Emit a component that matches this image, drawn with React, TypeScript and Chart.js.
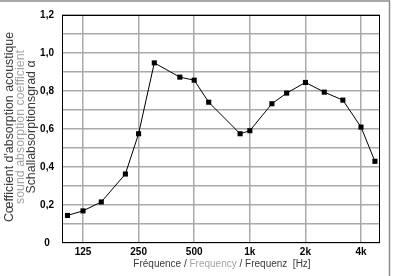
import React, { useEffect, useRef } from 'react';
import { Chart, registerables } from 'chart.js';

Chart.register(...registerables);

const frequencies = [103, 125, 157, 212, 250, 304, 418, 500, 599, 886, 1000, 1317, 1583, 2000, 2530, 3190, 4000, 4757];
const absorption = [0.145, 0.169, 0.216, 0.363, 0.575, 0.948, 0.873, 0.857, 0.741, 0.575, 0.591, 0.733, 0.789, 0.845, 0.794, 0.752, 0.61, 0.43];
const xTickValues = [125, 250, 500, 1000, 2000, 4000];
const xTickLabels = ['125', '250', '500', '1k', '2k', '4k'];
const yTickValues = [0, 0.2, 0.4, 0.6, 0.8, 1.0, 1.2];
const yTickLabels = ['0', '0,2', '0,4', '0,6', '0,8', '1,0', '1,2'];
const yTitleLines = ["Cœfficient d'absorption acoustique", 'sound absorption coefficient', 'Schallabsorptionsgrad α'];
const xTitleParts = ['Fréquence / ', 'Frequency', ' / Frequenz  [Hz]'];

const DARK = '#3a3a3a';
const LIGHT = '#a4a4a4';
const FONT = '"Liberation Sans", Arial, sans-serif';

const decorPlugin = {
  id: 'decor',
  beforeDatasetsDraw(chart: any) {
    const { ctx, chartArea: a } = chart;
    ctx.save();
    ctx.strokeStyle = '#000';
    ctx.lineWidth = 1;
    ctx.strokeRect(Math.round(a.left) + 0.5, Math.round(a.top) + 0.5, Math.round(a.right - a.left) - 1, Math.round(a.bottom - a.top) - 1);
    ctx.restore();
  },
  afterDraw(chart: any) {
    const { ctx, chartArea: a } = chart;
    ctx.save();
    // outer frame (cropped)
    ctx.strokeStyle = '#8c8c8c';
    ctx.lineWidth = 1.5;
    ctx.beginPath();
    ctx.moveTo(0, 1);
    ctx.lineTo(389.5, 1);
    ctx.lineTo(389.5, 276);
    ctx.stroke();

    // x title
    ctx.font = '10px ' + FONT;
    ctx.textBaseline = 'middle';
    ctx.textAlign = 'left';
    const widths = xTitleParts.map((p) => ctx.measureText(p).width);
    const total = widths.reduce((s, w) => s + w, 0);
    let x = (a.left + a.right) / 2 + 1 - total / 2;
    xTitleParts.forEach((p, i) => {
      ctx.fillStyle = i === 1 ? LIGHT : DARK;
      ctx.fillText(p, x, 264.5);
      x += widths[i];
    });

    // y title
    ctx.font = '12.4px ' + FONT;
    ctx.textAlign = 'center';
    const xs = [9.5, 21, 32];
    const cy = 127;
    yTitleLines.forEach((line, i) => {
      ctx.save();
      ctx.translate(xs[i], cy);
      ctx.rotate(-Math.PI / 2);
      ctx.fillStyle = i === 1 ? LIGHT : DARK;
      ctx.fillText(line, 0, 0);
      ctx.restore();
    });
    ctx.restore();
  },
};

export default function App() {
  const canvasRef = useRef<HTMLCanvasElement | null>(null);

  useEffect(() => {
    document.body.style.margin = '0';
    const canvas = canvasRef.current;
    if (!canvas) return;
    const chart = new Chart(canvas, {
      type: 'line',
      data: {
        datasets: [
          {
            data: frequencies.map((f, i) => ({ x: f, y: absorption[i] })),
            borderColor: '#000',
            borderWidth: 1,
            backgroundColor: '#000',
            pointStyle: 'rect',
            pointRadius: 3.6,
            pointBorderWidth: 0,
            pointBackgroundColor: '#000',
            tension: 0,
            fill: false,
          },
        ],
      },
      options: {
        animation: false,
        responsive: false,
        devicePixelRatio: 1,
        layout: { padding: { left: 0, top: 15, right: 18, bottom: 0 } },
        plugins: {
          legend: { display: false },
          tooltip: { enabled: false },
          title: { display: false },
        },
        scales: {
          x: {
            type: 'logarithmic',
            min: 96.2,
            max: 5068,
            afterBuildTicks: (scale: any) => {
              scale.ticks = xTickValues.map((value) => ({ value }));
            },
            afterFit: (scale: any) => {
              scale.height = 33;
            },
            grid: { color: '#aaaaaa', lineWidth: 1.5, drawTicks: false },
            border: { display: false },
            ticks: {
              autoSkip: false,
              maxRotation: 0,
              padding: 3,
              color: '#000',
              font: { family: FONT, size: 10, weight: 'bold' },
              callback: (v: any) => {
                const i = xTickValues.indexOf(Number(v));
                return i >= 0 ? xTickLabels[i] : '';
              },
            },
          },
          y: {
            type: 'linear',
            min: 0,
            max: 1.2,
            afterFit: (scale: any) => {
              scale.width = 62;
            },
            grid: { color: '#aaaaaa', lineWidth: 1.5, drawTicks: false },
            border: { display: false },
            ticks: {
              stepSize: 0.1,
              autoSkip: false,
              padding: 8,
              crossAlign: 'center',
              color: '#000',
              font: { family: FONT, size: 10, weight: 'bold' },
              callback: (v: any) => {
                const i = yTickValues.findIndex((t) => Math.abs(t - Number(v)) < 1e-6);
                return i >= 0 ? yTickLabels[i] : '';
              },
            },
          },
        },
      },
      plugins: [decorPlugin],
    } as any);
    return () => chart.destroy();
  }, []);

  return (
    <div style={{ width: 398, height: 276, background: '#fff' }}>
      <canvas ref={canvasRef} width={398} height={276} style={{ display: 'block', width: 398, height: 276 }} />
    </div>
  );
}
